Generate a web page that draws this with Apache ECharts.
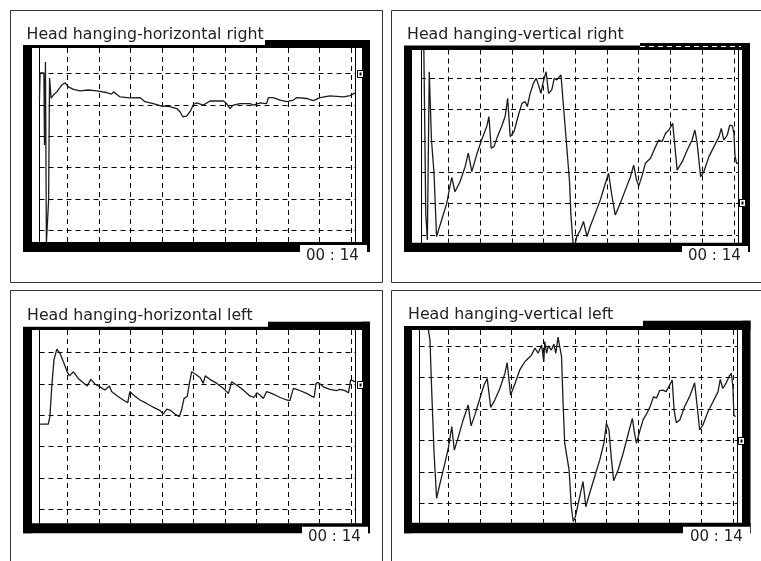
<!DOCTYPE html>
<html><head><meta charset="utf-8">
<script src="https://cdn.jsdelivr.net/npm/echarts@6/dist/echarts.min.js"></script>
<style>html,body{margin:0;padding:0;background:#fff}#c{width:761px;height:561px}</style>
</head><body><div id="c"></div><script>
// ---- data (time in grid units, position in degrees) ----
const titles = ["Head hanging-horizontal right", "Head hanging-vertical right", "Head hanging-horizontal left", "Head hanging-vertical left"];
const timeLabel = "00 : 14";

const hrT = [-0.89,-0.87,-0.75,-0.73,-0.70,-0.67,-0.62,-0.60,-0.57,-0.52,-0.45,-0.34,-0.19,-0.08,0.03,0.19,0.40,0.66,0.93,1.24,1.40,1.46,1.67,1.98,2.30,2.46,2.72,2.94,3.25,3.47,3.57,3.66,3.78,3.89,4.00,4.10,4.31,4.52,4.95,5.05,5.16,5.26,5.48,5.79,5.90,6.11,6.32,6.38,6.53,6.75,6.96,7.17,7.28,7.59,7.80,8.02,8.33,8.76,8.97,9.13];
const hrV = [41.5,50.1,50.1,27.2,53.6,-3.9,-3.9,9.7,48.5,42.1,43.1,44.1,46.2,47.0,45.7,44.9,44.4,44.7,44.4,43.9,43.4,44.1,42.5,42.2,42.3,41.0,40.4,39.7,39.4,38.8,37.8,36.2,36.4,37.8,40.1,40.6,39.9,41.2,41.2,40.4,38.8,39.9,40.4,40.4,39.9,40.6,40.4,42.3,42.3,41.5,41.0,41.5,42.3,42.0,41.3,42.3,42.8,42.5,42.9,43.8];

const vrT = [-0.77,-0.71,-0.66,-0.60,-0.56,-0.53,-0.45,-0.37,-0.21,-0.05,0.05,0.11,0.21,0.37,0.53,0.63,0.74,0.89,1.05,1.21,1.28,1.35,1.44,1.55,1.68,1.79,1.87,1.95,2.07,2.21,2.32,2.42,2.49,2.58,2.68,2.77,2.84,2.92,2.98,3.08,3.16,3.26,3.34,3.42,3.55,3.63,3.74,3.82,3.86,3.93,4.00,4.05,4.16,4.26,4.37,4.47,4.63,4.79,4.95,5.05,5.16,5.26,5.42,5.58,5.74,5.84,5.93,6.00,6.11,6.21,6.37,6.53,6.63,6.74,6.84,6.95,7.07,7.16,7.21,7.37,7.53,7.68,7.77,7.84,7.95,8.05,8.21,8.37,8.53,8.60,8.68,8.79,8.87,8.95,9.00,9.03,9.08,9.16];
const vrV = [59.0,6.9,-1.6,52.1,51.6,30.3,19.7,-0.5,4.8,10.1,15.4,18.4,13.8,17.0,21.8,26.1,20.2,25.5,30.3,34.6,37.8,27.7,28.2,31.4,34.6,37.8,43.6,31.4,33.0,38.3,42.0,42.6,41.0,45.2,48.4,50.0,47.9,45.2,48.4,52.1,45.2,46.3,50.0,49.5,51.1,41.0,27.1,17.0,6.9,-2.7,-2.7,-0.5,1.6,4.3,-0.5,2.7,6.9,11.2,16.5,19.7,12.2,6.4,10.1,14.4,18.6,22.3,17.6,15.6,19.1,22.9,24.5,28.2,30.3,29.8,32.4,33.5,35.6,26.1,20.7,23.4,27.1,30.3,33.5,29.3,18.6,20.2,25.0,28.2,31.4,34.0,30.3,31.9,35.1,34.8,32.4,25.5,22.9,22.9];

const hlT = [-0.87,-0.61,-0.56,-0.50,-0.43,-0.34,-0.24,-0.13,-0.01,0.06,0.19,0.34,0.50,0.63,0.74,0.87,1.03,1.19,1.33,1.40,1.58,1.77,1.91,1.98,2.09,2.30,2.51,2.72,2.94,3.04,3.15,3.25,3.41,3.55,3.62,3.70,3.80,3.87,3.94,4.05,4.21,4.31,4.37,4.52,4.74,4.95,5.11,5.21,5.37,5.58,5.79,5.92,6.01,6.11,6.22,6.32,6.48,6.75,6.96,7.06,7.17,7.33,7.59,7.83,7.89,7.96,8.12,8.33,8.54,8.65,8.81,8.92,8.99,9.07,9.12];
const hlV = [27.2,27.2,29.6,39.1,47.7,51.1,49.8,47.1,43.9,42.6,43.9,41.8,40.4,39.4,41.5,40.0,39.1,38.1,39.4,37.6,36.2,34.9,34.0,37.6,36.5,34.9,33.8,32.6,31.5,30.4,32.0,31.7,30.4,29.6,31.7,35.4,36.0,40.2,43.9,43.2,42.1,40.2,42.6,41.5,40.2,38.6,37.0,40.7,39.7,38.1,36.2,35.7,37.2,36.5,35.4,37.6,37.0,35.7,34.9,34.7,38.6,38.1,37.0,35.7,40.2,40.5,39.1,38.3,37.9,38.3,37.9,37.2,41.3,41.0,40.7];

const vlT = [-0.63,-0.58,-0.53,-0.45,-0.37,-0.26,-0.11,0.00,0.11,0.19,0.32,0.47,0.63,0.72,0.84,1.00,1.13,1.23,1.34,1.47,1.63,1.79,1.86,1.97,2.11,2.26,2.42,2.53,2.63,2.74,2.84,2.95,3.02,3.05,3.11,3.16,3.26,3.34,3.40,3.47,3.53,3.58,3.63,3.68,3.74,3.82,3.89,3.95,4.02,4.11,4.18,4.26,4.35,4.47,4.63,4.79,4.92,5.00,5.08,5.16,5.23,5.37,5.53,5.68,5.82,5.89,5.95,6.05,6.16,6.28,6.39,6.49,6.58,6.68,6.79,6.89,7.00,7.08,7.14,7.21,7.32,7.47,7.63,7.79,7.86,7.95,8.05,8.21,8.37,8.53,8.60,8.68,8.79,8.89,8.95,9.00,9.03,9.08];
const vlV = [55.1,51.9,37.1,15.9,1.6,6.4,12.7,17.5,24.4,16.9,21.2,26.5,31.3,24.6,28.1,33.4,37.6,39.7,30.5,32.8,36.5,41.3,44.7,34.4,38.1,42.4,45.0,46.1,47.1,49.3,47.7,50.3,45.0,51.4,47.7,50.0,48.7,50.6,47.7,52.8,53.0,46.6,31.8,19.1,18.5,10.6,-1.1,-5.8,-4.2,0.0,3.2,6.9,-1.1,3.2,8.5,13.8,19.1,25.4,23.3,13.8,7.2,10.6,15.9,21.7,27.0,22.2,19.1,22.8,26.5,28.6,30.9,33.9,33.4,35.8,36.0,35.5,37.6,39.2,29.7,25.6,26.5,30.7,33.9,38.3,31.8,23.3,24.9,29.1,32.3,35.5,39.4,36.5,38.3,40.5,41.3,37.1,28.1,27.5];

const seriesT = [hrT, vrT, hlT, vlT];
const seriesV = [hrV, vrV, hlV, vlV];

// ---- layout (pixels) ----
const panels = [
  {grid:{left:39.5, top:48, width:315.5, height:194}, x:[-0.889, 9.127], y:[-3.59, 58.04],
   box:[10.5,10.5,372,272], frame:[23,40,370,252], inner:[32,48,362,242], tbox:[23,24,242,21], tx:26.5, ty:34.5,
   nbox:[300,245,67,18], nx:306, ny:256, mk:[357.5,70.5]},
  {grid:{left:421, top:49.5, width:317.3, height:193.2}, x:[-0.860, 9.137], y:[-2.46, 59.19],
   box:[391.5,10.5,380,272], frame:[404,43,750,252], inner:[412,50,742,242.7], tbox:[404,24,236,21.5], tx:407, ty:34.5,
   nbox:[682,246,66,17], nx:688, ny:256, mk:[739.5,199.5]},
  {grid:{left:39.5, top:330, width:315.5, height:193.3}, x:[-0.889, 9.127], y:[-4.47, 57.25],
   box:[10.5,290.5,372,300], frame:[23,321.7,370,533.3], inner:[32,330,362,523.3], tbox:[23,304,245,22.7], tx:27, ty:315.5,
   nbox:[302,526.7,66,18.3], nx:308, ny:537, mk:[357.5,381.5]},
  {grid:{left:419.5, top:330, width:317.8, height:192.7}, x:[-0.911, 9.139], y:[-6.17, 55.09],
   box:[391.5,290.5,380,300], frame:[404,320.7,750.5,533.3], inner:[412,330,742,522.7], tbox:[404,303,239,23], tx:408, ty:315,
   nbox:[683,526.7,67,18.3], nx:690, ny:537, mk:[738.5,437.5]}
];

const dash = {color:'#000', width:1, type:[5,4]};
const grids = [], xAxes = [], yAxes = [], series = [], gfx = [];
panels.forEach((p, i) => {
  grids.push(Object.assign({containLabel:false}, p.grid));
  xAxes.push({type:'value', gridIndex:i, min:p.x[0], max:p.x[1], splitNumber:10,
    axisLine:{show:false}, axisTick:{show:false}, axisLabel:{show:false},
    splitLine:{show:true, showMinLine:false, showMaxLine:false, lineStyle:dash}});
  yAxes.push({type:'value', gridIndex:i, min:p.y[0], max:p.y[1], splitNumber:5,
    axisLine:{show:true, onZero:false, lineStyle:{color:'#000', width:1}}, axisTick:{show:false}, axisLabel:{show:false},
    splitLine:{show:true, showMinLine:false, showMaxLine:false, lineStyle:dash}});
  yAxes.push({type:'value', gridIndex:i, position:'right', min:0, max:1,
    axisLine:{show:true, onZero:false, lineStyle:{color:'#000', width:1}}, axisTick:{show:false}, axisLabel:{show:false},
    splitLine:{show:false}});
  series.push({type:'line', xAxisIndex:i, yAxisIndex:2*i, showSymbol:false, clip:false, silent:true, z:3,
    lineStyle:{color:'#1c1c1c', width:1.3},
    data: seriesT[i].map((t, k) => [t, seriesV[i][k]])});

  // decorations
  const b = p.box;
  gfx.push({type:'rect', z:1, shape:{x:b[0], y:b[1], width:b[2], height:b[3]}, style:{fill:'none', stroke:'#333', lineWidth:1}});
  const f = p.frame, n = p.inner;
  const black = {fill:'#000'};
  gfx.push({type:'rect', z:5, shape:{x:f[0], y:f[1], width:f[2]-f[0], height:n[1]-f[1]}, style:black});
  gfx.push({type:'rect', z:5, shape:{x:f[0], y:n[3], width:f[2]-f[0], height:f[3]-n[3]}, style:black});
  gfx.push({type:'rect', z:5, shape:{x:f[0], y:f[1], width:n[0]-f[0], height:f[3]-f[1]}, style:black});
  gfx.push({type:'rect', z:5, shape:{x:n[2], y:f[1], width:f[2]-n[2], height:f[3]-f[1]}, style:black});
  const tb = p.tbox;
  gfx.push({type:'rect', z:6, shape:{x:tb[0], y:tb[1], width:tb[2], height:tb[3]}, style:{fill:'#fff'}});
  gfx.push({type:'text', z:7, x:p.tx, y:p.ty, style:{text:titles[i], fill:'#222', font:'15.8px "DejaVu Sans"', verticalAlign:'middle', align:'left'}});
  const nb = p.nbox;
  gfx.push({type:'rect', z:6, shape:{x:nb[0], y:nb[1], width:nb[2], height:nb[3]}, style:{fill:'#fff'}});
  gfx.push({type:'text', z:7, x:p.nx, y:p.ny, style:{text:timeLabel, fill:'#222', font:'15px "DejaVu Sans"', verticalAlign:'middle', align:'left'}});
  gfx.push({type:'rect', z:7, shape:{x:p.mk[0], y:p.mk[1], width:6, height:7}, style:{fill:'#fff', stroke:'#000', lineWidth:1}});
  gfx.push({type:'rect', z:8, shape:{x:p.mk[0]+2, y:p.mk[1]+2, width:2, height:3}, style:{fill:'#000'}});
});
// dashed grid line showing through the top bar of the second panel
gfx.push({type:'line', z:6, shape:{x1:640, y1:46.5, x2:741, y2:46.5}, style:{stroke:'#fff', lineWidth:1, lineDash:[5,4]}});

const chart = echarts.init(document.getElementById('c'), null, {renderer:'canvas'});
chart.setOption({
  animation:false, backgroundColor:'#fff',
  grid:grids, xAxis:xAxes, yAxis:yAxes, series:series, graphic:{elements:gfx}
});
</script></body></html>
